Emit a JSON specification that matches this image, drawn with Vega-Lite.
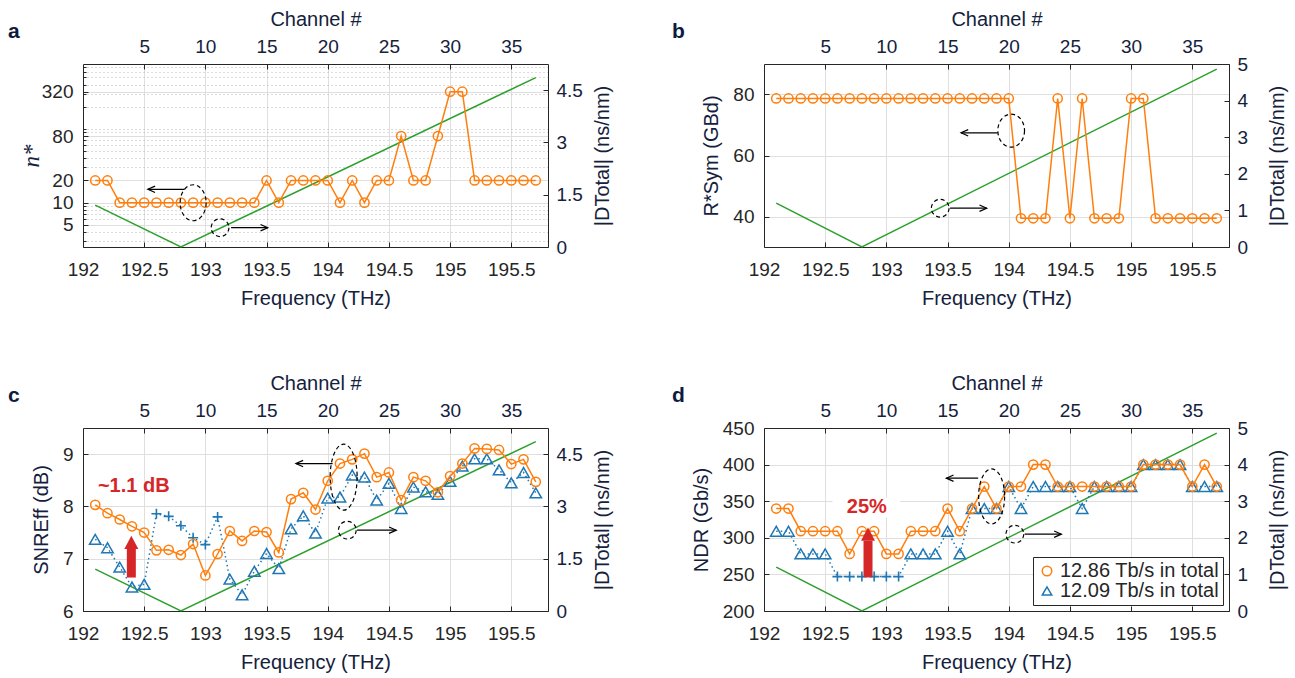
{
  "$schema": "https://vega.github.io/schema/vega-lite/v6.json",
  "background": "white",
  "padding": {"left": 8, "top": 9, "right": 2, "bottom": 2},
  "columns": 2,
  "spacing": {"row": 181, "column": 216},
  "bounds": "flush",
  "resolve": {"scale": {"color": "independent", "shape": "independent"}},
  "config": {
    "font": "Liberation Sans",
    "view": {"stroke": null},
    "axis": {"labelFont": "Liberation Sans", "labelFontSize": 19, "labelColor": "#262626", "titleFont": "Liberation Sans", "titleFontSize": 20, "titleFontWeight": "normal", "titleColor": "#14213d", "domainColor": "#262626", "tickColor": "#262626", "tickSize": -5, "labelPadding": 9, "titlePadding": 6, "gridColor": "#dfdfdf", "labelOverlap": false, "labelFlush": false, "labelBound": false},
    "axisTop": {"labelPadding": 13, "titlePadding": 8},
    "axisBottom": {"labelPadding": 18, "titlePadding": 9},
    "axisLeft": {"labelPadding": 15},
    "axisRight": {"labelPadding": 13},
    "title": {"font": "Liberation Sans", "fontSize": 21, "fontWeight": "bold", "color": "#0d1b3e", "anchor": "start", "frame": "group", "offset": 0},
    "legend": {"labelFont": "Liberation Sans", "labelFontSize": 20, "labelColor": "#262626", "symbolStrokeWidth": 1.5, "rowPadding": 0, "padding": 4, "strokeColor": "#262626", "fillColor": "white", "labelOffset": 3, "symbolSize": 90, "labelLimit": 300}
  },
  "datasets": {
    "G": [{"f": 192.1, "d": 1.2}, {"f": 192.8, "d": 0}, {"f": 195.7, "d": 4.86}],
    "A": [
      {"f": 192.1, "v": 20}, {"f": 192.2, "v": 20}, {"f": 192.3, "v": 10}, {"f": 192.4, "v": 10}, {"f": 192.5, "v": 10},
      {"f": 192.6, "v": 10}, {"f": 192.7, "v": 10}, {"f": 192.8, "v": 10}, {"f": 192.9, "v": 10}, {"f": 193.0, "v": 10},
      {"f": 193.1, "v": 10}, {"f": 193.2, "v": 10}, {"f": 193.3, "v": 10}, {"f": 193.4, "v": 10}, {"f": 193.5, "v": 20},
      {"f": 193.6, "v": 10}, {"f": 193.7, "v": 20}, {"f": 193.8, "v": 20}, {"f": 193.9, "v": 20}, {"f": 194.0, "v": 20},
      {"f": 194.1, "v": 10}, {"f": 194.2, "v": 20}, {"f": 194.3, "v": 10}, {"f": 194.4, "v": 20}, {"f": 194.5, "v": 20},
      {"f": 194.6, "v": 80}, {"f": 194.7, "v": 20}, {"f": 194.8, "v": 20}, {"f": 194.9, "v": 80}, {"f": 195.0, "v": 320},
      {"f": 195.1, "v": 320}, {"f": 195.2, "v": 20}, {"f": 195.3, "v": 20}, {"f": 195.4, "v": 20}, {"f": 195.5, "v": 20},
      {"f": 195.6, "v": 20}, {"f": 195.7, "v": 20}
    ],
    "B": [
      {"f": 192.1, "v": 78.7}, {"f": 192.2, "v": 78.7}, {"f": 192.3, "v": 78.7}, {"f": 192.4, "v": 78.7}, {"f": 192.5, "v": 78.7},
      {"f": 192.6, "v": 78.7}, {"f": 192.7, "v": 78.7}, {"f": 192.8, "v": 78.7}, {"f": 192.9, "v": 78.7}, {"f": 193.0, "v": 78.7},
      {"f": 193.1, "v": 78.7}, {"f": 193.2, "v": 78.7}, {"f": 193.3, "v": 78.7}, {"f": 193.4, "v": 78.7}, {"f": 193.5, "v": 78.7},
      {"f": 193.6, "v": 78.7}, {"f": 193.7, "v": 78.7}, {"f": 193.8, "v": 78.7}, {"f": 193.9, "v": 78.7}, {"f": 194.0, "v": 78.7},
      {"f": 194.1, "v": 39.4}, {"f": 194.2, "v": 39.4}, {"f": 194.3, "v": 39.4}, {"f": 194.4, "v": 78.7}, {"f": 194.5, "v": 39.4},
      {"f": 194.6, "v": 78.7}, {"f": 194.7, "v": 39.4}, {"f": 194.8, "v": 39.4}, {"f": 194.9, "v": 39.4}, {"f": 195.0, "v": 78.7},
      {"f": 195.1, "v": 78.7}, {"f": 195.2, "v": 39.4}, {"f": 195.3, "v": 39.4}, {"f": 195.4, "v": 39.4}, {"f": 195.5, "v": 39.4},
      {"f": 195.6, "v": 39.4}, {"f": 195.7, "v": 39.4}
    ],
    "Co": [
      {"f": 192.1, "v": 8.03}, {"f": 192.2, "v": 7.87}, {"f": 192.3, "v": 7.75}, {"f": 192.4, "v": 7.62}, {"f": 192.5, "v": 7.50},
      {"f": 192.6, "v": 7.16}, {"f": 192.7, "v": 7.17}, {"f": 192.8, "v": 7.07}, {"f": 192.9, "v": 7.28}, {"f": 193.0, "v": 6.68},
      {"f": 193.1, "v": 7.09}, {"f": 193.2, "v": 7.53}, {"f": 193.3, "v": 7.34}, {"f": 193.4, "v": 7.53}, {"f": 193.5, "v": 7.51},
      {"f": 193.6, "v": 7.12}, {"f": 193.7, "v": 8.14}, {"f": 193.8, "v": 8.26}, {"f": 193.9, "v": 7.94}, {"f": 194.0, "v": 8.49},
      {"f": 194.1, "v": 8.82}, {"f": 194.2, "v": 8.90}, {"f": 194.3, "v": 9.01}, {"f": 194.4, "v": 8.56}, {"f": 194.5, "v": 8.65},
      {"f": 194.6, "v": 8.12}, {"f": 194.7, "v": 8.56}, {"f": 194.8, "v": 8.49}, {"f": 194.9, "v": 8.27}, {"f": 195.0, "v": 8.58},
      {"f": 195.1, "v": 8.82}, {"f": 195.2, "v": 9.11}, {"f": 195.3, "v": 9.10}, {"f": 195.4, "v": 9.08}, {"f": 195.5, "v": 8.81},
      {"f": 195.6, "v": 8.90}, {"f": 195.7, "v": 8.47}
    ],
    "Cb": [
      {"f": 192.1, "v": 7.37, "kind": "tri"}, {"f": 192.2, "v": 7.21, "kind": "tri"}, {"f": 192.3, "v": 6.84, "kind": "tri"},
      {"f": 192.4, "v": 6.46, "kind": "tri"}, {"f": 192.5, "v": 6.51, "kind": "tri"}, {"f": 192.6, "v": 7.86, "kind": "plus"},
      {"f": 192.7, "v": 7.81, "kind": "plus"}, {"f": 192.8, "v": 7.63, "kind": "plus"}, {"f": 192.9, "v": 7.40, "kind": "plus"},
      {"f": 193.0, "v": 7.27, "kind": "plus"}, {"f": 193.1, "v": 7.80, "kind": "plus"}, {"f": 193.2, "v": 6.61, "kind": "tri"},
      {"f": 193.3, "v": 6.31, "kind": "tri"}, {"f": 193.4, "v": 6.76, "kind": "tri"}, {"f": 193.5, "v": 7.10, "kind": "tri"},
      {"f": 193.6, "v": 6.81, "kind": "tri"}, {"f": 193.7, "v": 7.57, "kind": "tri"}, {"f": 193.8, "v": 7.82, "kind": "tri"},
      {"f": 193.9, "v": 7.49, "kind": "tri"}, {"f": 194.0, "v": 8.16, "kind": "tri"}, {"f": 194.1, "v": 8.18, "kind": "tri"},
      {"f": 194.2, "v": 8.60, "kind": "tri"}, {"f": 194.3, "v": 8.56, "kind": "tri"}, {"f": 194.4, "v": 8.12, "kind": "tri"},
      {"f": 194.5, "v": 8.44, "kind": "tri"}, {"f": 194.6, "v": 7.96, "kind": "tri"}, {"f": 194.7, "v": 8.37, "kind": "tri"},
      {"f": 194.8, "v": 8.28, "kind": "tri"}, {"f": 194.9, "v": 8.23, "kind": "tri"}, {"f": 195.0, "v": 8.48, "kind": "tri"},
      {"f": 195.1, "v": 8.77, "kind": "tri"}, {"f": 195.2, "v": 8.91, "kind": "tri"}, {"f": 195.3, "v": 8.91, "kind": "tri"},
      {"f": 195.4, "v": 8.70, "kind": "tri"}, {"f": 195.5, "v": 8.45, "kind": "tri"}, {"f": 195.6, "v": 8.65, "kind": "tri"},
      {"f": 195.7, "v": 8.26, "kind": "tri"}
    ],
    "Do": [
      {"f": 192.1, "v": 340, "series": "12.86 Tb/s in total"}, {"f": 192.2, "v": 340, "series": "12.86 Tb/s in total"},
      {"f": 192.3, "v": 309, "series": "12.86 Tb/s in total"}, {"f": 192.4, "v": 309, "series": "12.86 Tb/s in total"},
      {"f": 192.5, "v": 309, "series": "12.86 Tb/s in total"}, {"f": 192.6, "v": 309, "series": "12.86 Tb/s in total"},
      {"f": 192.7, "v": 278, "series": "12.86 Tb/s in total"}, {"f": 192.8, "v": 309, "series": "12.86 Tb/s in total"},
      {"f": 192.9, "v": 309, "series": "12.86 Tb/s in total"}, {"f": 193.0, "v": 278, "series": "12.86 Tb/s in total"},
      {"f": 193.1, "v": 278, "series": "12.86 Tb/s in total"}, {"f": 193.2, "v": 309, "series": "12.86 Tb/s in total"},
      {"f": 193.3, "v": 309, "series": "12.86 Tb/s in total"}, {"f": 193.4, "v": 309, "series": "12.86 Tb/s in total"},
      {"f": 193.5, "v": 340, "series": "12.86 Tb/s in total"}, {"f": 193.6, "v": 309, "series": "12.86 Tb/s in total"},
      {"f": 193.7, "v": 340, "series": "12.86 Tb/s in total"}, {"f": 193.8, "v": 370, "series": "12.86 Tb/s in total"},
      {"f": 193.9, "v": 340, "series": "12.86 Tb/s in total"}, {"f": 194.0, "v": 370, "series": "12.86 Tb/s in total"},
      {"f": 194.1, "v": 370, "series": "12.86 Tb/s in total"}, {"f": 194.2, "v": 400, "series": "12.86 Tb/s in total"},
      {"f": 194.3, "v": 400, "series": "12.86 Tb/s in total"}, {"f": 194.4, "v": 370, "series": "12.86 Tb/s in total"},
      {"f": 194.5, "v": 370, "series": "12.86 Tb/s in total"}, {"f": 194.6, "v": 370, "series": "12.86 Tb/s in total"},
      {"f": 194.7, "v": 370, "series": "12.86 Tb/s in total"}, {"f": 194.8, "v": 370, "series": "12.86 Tb/s in total"},
      {"f": 194.9, "v": 370, "series": "12.86 Tb/s in total"}, {"f": 195.0, "v": 370, "series": "12.86 Tb/s in total"},
      {"f": 195.1, "v": 400, "series": "12.86 Tb/s in total"}, {"f": 195.2, "v": 400, "series": "12.86 Tb/s in total"},
      {"f": 195.3, "v": 400, "series": "12.86 Tb/s in total"}, {"f": 195.4, "v": 400, "series": "12.86 Tb/s in total"},
      {"f": 195.5, "v": 370, "series": "12.86 Tb/s in total"}, {"f": 195.6, "v": 400, "series": "12.86 Tb/s in total"},
      {"f": 195.7, "v": 370, "series": "12.86 Tb/s in total"}
    ],
    "Db": [
      {"f": 192.1, "v": 309, "kind": "tri", "series": "12.09 Tb/s in total"}, {"f": 192.2, "v": 309, "kind": "tri", "series": "12.09 Tb/s in total"},
      {"f": 192.3, "v": 278, "kind": "tri", "series": "12.09 Tb/s in total"}, {"f": 192.4, "v": 278, "kind": "tri", "series": "12.09 Tb/s in total"},
      {"f": 192.5, "v": 278, "kind": "tri", "series": "12.09 Tb/s in total"}, {"f": 192.6, "v": 247, "kind": "plus", "series": "12.09 Tb/s in total"},
      {"f": 192.7, "v": 247, "kind": "plus", "series": "12.09 Tb/s in total"}, {"f": 192.8, "v": 247, "kind": "plus", "series": "12.09 Tb/s in total"},
      {"f": 192.9, "v": 247, "kind": "plus", "series": "12.09 Tb/s in total"}, {"f": 193.0, "v": 247, "kind": "plus", "series": "12.09 Tb/s in total"},
      {"f": 193.1, "v": 247, "kind": "plus", "series": "12.09 Tb/s in total"}, {"f": 193.2, "v": 278, "kind": "tri", "series": "12.09 Tb/s in total"},
      {"f": 193.3, "v": 278, "kind": "tri", "series": "12.09 Tb/s in total"}, {"f": 193.4, "v": 278, "kind": "tri", "series": "12.09 Tb/s in total"},
      {"f": 193.5, "v": 309, "kind": "tri", "series": "12.09 Tb/s in total"}, {"f": 193.6, "v": 278, "kind": "tri", "series": "12.09 Tb/s in total"},
      {"f": 193.7, "v": 340, "kind": "tri", "series": "12.09 Tb/s in total"}, {"f": 193.8, "v": 340, "kind": "tri", "series": "12.09 Tb/s in total"},
      {"f": 193.9, "v": 340, "kind": "tri", "series": "12.09 Tb/s in total"}, {"f": 194.0, "v": 370, "kind": "tri", "series": "12.09 Tb/s in total"},
      {"f": 194.1, "v": 340, "kind": "tri", "series": "12.09 Tb/s in total"}, {"f": 194.2, "v": 370, "kind": "tri", "series": "12.09 Tb/s in total"},
      {"f": 194.3, "v": 370, "kind": "tri", "series": "12.09 Tb/s in total"}, {"f": 194.4, "v": 370, "kind": "tri", "series": "12.09 Tb/s in total"},
      {"f": 194.5, "v": 370, "kind": "tri", "series": "12.09 Tb/s in total"}, {"f": 194.6, "v": 340, "kind": "tri", "series": "12.09 Tb/s in total"},
      {"f": 194.7, "v": 370, "kind": "tri", "series": "12.09 Tb/s in total"}, {"f": 194.8, "v": 370, "kind": "tri", "series": "12.09 Tb/s in total"},
      {"f": 194.9, "v": 370, "kind": "tri", "series": "12.09 Tb/s in total"}, {"f": 195.0, "v": 370, "kind": "tri", "series": "12.09 Tb/s in total"},
      {"f": 195.1, "v": 400, "kind": "tri", "series": "12.09 Tb/s in total"}, {"f": 195.2, "v": 400, "kind": "tri", "series": "12.09 Tb/s in total"},
      {"f": 195.3, "v": 400, "kind": "tri", "series": "12.09 Tb/s in total"}, {"f": 195.4, "v": 400, "kind": "tri", "series": "12.09 Tb/s in total"},
      {"f": 195.5, "v": 370, "kind": "tri", "series": "12.09 Tb/s in total"}, {"f": 195.6, "v": 370, "kind": "tri", "series": "12.09 Tb/s in total"},
      {"f": 195.7, "v": 370, "kind": "tri", "series": "12.09 Tb/s in total"}
    ],
    "arrA": [{"f1": 192.83, "f2": 192.53, "d": 1.655}, {"f1": 193.21, "f2": 193.51, "d": 0.554}],
    "arrB": [{"f1": 193.91, "f2": 193.61, "d": 3.12}, {"f1": 193.52, "f2": 193.82, "d": 1.06}],
    "arrC": [{"f1": 194.04, "f2": 193.74, "d": 4.23}, {"f1": 194.24, "f2": 194.56, "d": 2.32}],
    "arrD": [{"f1": 193.75, "f2": 193.49, "d": 3.63}, {"f1": 194.13, "f2": 194.43, "d": 2.10}]
  },
  "concat": [
    {
      "width": 465, "height": 183,
      "title": {"text": "a", "dx": -75, "dy": 37},
      "resolve": {"scale": {"y": "independent"}, "axis": {"x": "independent", "y": "independent"}},
      "layer": [
        {"data": {"name": "A"}, "mark": {"type": "point", "shape": "circle", "filled": false, "size": 80, "strokeWidth": 1.5, "color": "#ff7f0e", "opacity": 0},
         "encoding": {
           "x": {"field": "f", "type": "quantitative", "scale": {"domain": [192, 195.8], "nice": false, "zero": false}, "axis": null},
           "y": {"field": "v", "type": "quantitative", "scale": {"type": "log", "domain": [2.5, 760], "nice": false}, "axis": {"orient": "left", "values": [3, 4, 6, 7, 8, 9, 30, 40, 50, 60, 70, 90, 100, 200, 300, 400, 500, 600, 700], "labels": false, "title": null, "domain": false, "grid": true, "gridDash": [1, 3], "gridColor": "#b8b8b8", "tickSize": -3}}}},
        {"data": {"name": "G"}, "mark": {"type": "line", "color": "#2ca02c", "strokeWidth": 1.5},
         "encoding": {
           "x": {"field": "f", "type": "quantitative", "scale": {"domain": [192, 195.8], "nice": false, "zero": false}, "axis": {"orient": "top", "values": [192.5, 193, 193.5, 194, 194.5, 195, 195.5], "labelExpr": "format(round((datum.value-192)*10),'d')", "title": "Channel #", "grid": false, "labelColor": "#14213d"}},
           "y": {"field": "d", "type": "quantitative", "scale": {"domain": [0, 5.25], "nice": false, "zero": false}, "axis": {"orient": "right", "values": [0, 1.5, 3, 4.5], "format": ".2~r", "title": "|DTotal| (ns/nm)", "titleAngle": -90, "titleBaseline": "top", "titlePadding": 10, "grid": false, "labelColor": "#14213d"}}}},
        {"data": {"name": "A"}, "mark": {"type": "line", "color": "#ff7f0e", "strokeWidth": 1.5},
         "encoding": {
           "x": {"field": "f", "type": "quantitative", "scale": {"domain": [192, 195.8], "nice": false, "zero": false}, "axis": {"orient": "bottom", "values": [192, 192.5, 193, 193.5, 194, 194.5, 195, 195.5], "format": ".4~r", "title": "Frequency (THz)", "grid": true}},
           "y": {"field": "v", "type": "quantitative", "scale": {"type": "log", "domain": [2.5, 760], "nice": false}, "axis": {"orient": "left", "values": [5, 10, 20, 80, 320], "format": ".3~r", "title": "n*", "titleFont": "Liberation Serif", "titleFontStyle": "italic", "titleFontSize": 23, "titlePadding": -2, "grid": true}}}},
        {"data": {"name": "A"}, "mark": {"type": "point", "shape": "circle", "filled": false, "size": 85, "strokeWidth": 1.5, "color": "#ff7f0e", "opacity": 1},
         "encoding": {
           "x": {"field": "f", "type": "quantitative", "scale": {"domain": [192, 195.8], "nice": false, "zero": false}, "axis": null},
           "y": {"field": "v", "type": "quantitative", "scale": {"type": "log", "domain": [2.5, 760], "nice": false}, "axis": null}}},
        {"data": {"values": [{"f": 192.90, "d": 1.27}]}, "mark": {"type": "point", "shape": "M 0.722 0 C 0.722 0.552 0.399 1 0 1 C -0.399 1 -0.722 0.552 -0.722 0 C -0.722 -0.552 -0.399 -1 0 -1 C 0.399 -1 0.722 -0.552 0.722 0 Z", "size": 1296, "filled": false, "color": "black", "strokeWidth": 1.2, "strokeDash": [4, 3], "opacity": 1},
         "encoding": {
           "x": {"field": "f", "type": "quantitative", "scale": {"domain": [192, 195.8], "nice": false, "zero": false}, "axis": null},
           "y": {"field": "d", "type": "quantitative", "scale": {"domain": [0, 5.25], "nice": false, "zero": false}, "axis": null}}},
        {"data": {"values": [{"f": 193.12, "d": 0.554}]}, "mark": {"type": "point", "shape": "circle", "size": 314, "filled": false, "color": "black", "strokeWidth": 1.2, "strokeDash": [4, 3], "opacity": 1},
         "encoding": {
           "x": {"field": "f", "type": "quantitative", "scale": {"domain": [192, 195.8], "nice": false, "zero": false}, "axis": null},
           "y": {"field": "d", "type": "quantitative", "scale": {"domain": [0, 5.25], "nice": false, "zero": false}, "axis": null}}},
        {"data": {"name": "arrA"}, "mark": {"type": "rule", "color": "black", "strokeWidth": 1.2},
         "encoding": {
           "x": {"field": "f1", "type": "quantitative", "scale": {"domain": [192, 195.8], "nice": false, "zero": false}, "axis": null},
           "x2": {"field": "f2"},
           "y": {"field": "d", "type": "quantitative", "scale": {"domain": [0, 5.25], "nice": false, "zero": false}, "axis": null}}},
        {"data": {"name": "arrA"}, "transform": [{"filter": "datum.f2 < datum.f1"}], "mark": {"type": "point", "shape": "M 1.8 -0.8 L 0 0 L 1.8 0.8", "size": 64, "filled": false, "color": "black", "strokeWidth": 1.2, "opacity": 1},
         "encoding": {
           "x": {"field": "f2", "type": "quantitative", "scale": {"domain": [192, 195.8], "nice": false, "zero": false}, "axis": null},
           "y": {"field": "d", "type": "quantitative", "scale": {"domain": [0, 5.25], "nice": false, "zero": false}, "axis": null}}},
        {"data": {"name": "arrA"}, "transform": [{"filter": "datum.f2 > datum.f1"}], "mark": {"type": "point", "shape": "M -1.8 -0.8 L 0 0 L -1.8 0.8", "size": 64, "filled": false, "color": "black", "strokeWidth": 1.2, "opacity": 1},
         "encoding": {
           "x": {"field": "f2", "type": "quantitative", "scale": {"domain": [192, 195.8], "nice": false, "zero": false}, "axis": null},
           "y": {"field": "d", "type": "quantitative", "scale": {"domain": [0, 5.25], "nice": false, "zero": false}, "axis": null}}}
      ]
    },
    {
      "width": 465, "height": 183,
      "title": {"text": "b", "dx": -92, "dy": 37},
      "resolve": {"scale": {"y": "independent"}, "axis": {"x": "independent", "y": "independent"}},
      "layer": [
        {"data": {"name": "G"}, "mark": {"type": "line", "color": "#2ca02c", "strokeWidth": 1.5},
         "encoding": {
           "x": {"field": "f", "type": "quantitative", "scale": {"domain": [192, 195.8], "nice": false, "zero": false}, "axis": {"orient": "top", "values": [192.5, 193, 193.5, 194, 194.5, 195, 195.5], "labelExpr": "format(round((datum.value-192)*10),'d')", "title": "Channel #", "grid": false, "labelColor": "#14213d"}},
           "y": {"field": "d", "type": "quantitative", "scale": {"domain": [0, 5], "nice": false, "zero": false}, "axis": {"orient": "right", "values": [0, 1, 2, 3, 4, 5], "format": "d", "title": "|DTotal| (ns/nm)", "titleAngle": -90, "titleBaseline": "top", "titlePadding": 20, "grid": false, "labelColor": "#14213d"}}}},
        {"data": {"name": "B"}, "mark": {"type": "line", "color": "#ff7f0e", "strokeWidth": 1.5},
         "encoding": {
           "x": {"field": "f", "type": "quantitative", "scale": {"domain": [192, 195.8], "nice": false, "zero": false}, "axis": {"orient": "bottom", "values": [192, 192.5, 193, 193.5, 194, 194.5, 195, 195.5], "format": ".4~r", "title": "Frequency (THz)", "grid": true}},
           "y": {"field": "v", "type": "quantitative", "scale": {"domain": [30, 90], "nice": false, "zero": false}, "axis": {"orient": "left", "values": [40, 60, 80], "format": "d", "title": "R*Sym (GBd)", "titlePadding": 11, "grid": true}}}},
        {"data": {"name": "B"}, "mark": {"type": "point", "shape": "circle", "filled": false, "size": 85, "strokeWidth": 1.5, "color": "#ff7f0e", "opacity": 1},
         "encoding": {
           "x": {"field": "f", "type": "quantitative", "scale": {"domain": [192, 195.8], "nice": false, "zero": false}, "axis": null},
           "y": {"field": "v", "type": "quantitative", "scale": {"domain": [30, 90], "nice": false, "zero": false}, "axis": null}}},
        {"data": {"values": [{"f": 194.02, "d": 3.18}]}, "mark": {"type": "point", "shape": "M 0.809 0 C 0.809 0.552 0.447 1 0 1 C -0.447 1 -0.809 0.552 -0.809 0 C -0.809 -0.552 -0.447 -1 0 -1 C 0.447 -1 0.809 -0.552 0.809 0 Z", "size": 1089, "filled": false, "color": "black", "strokeWidth": 1.2, "strokeDash": [4, 3], "opacity": 1},
         "encoding": {
           "x": {"field": "f", "type": "quantitative", "scale": {"domain": [192, 195.8], "nice": false, "zero": false}, "axis": null},
           "y": {"field": "d", "type": "quantitative", "scale": {"domain": [0, 5], "nice": false, "zero": false}, "axis": null}}},
        {"data": {"values": [{"f": 193.44, "d": 1.06}]}, "mark": {"type": "point", "shape": "circle", "size": 314, "filled": false, "color": "black", "strokeWidth": 1.2, "strokeDash": [4, 3], "opacity": 1},
         "encoding": {
           "x": {"field": "f", "type": "quantitative", "scale": {"domain": [192, 195.8], "nice": false, "zero": false}, "axis": null},
           "y": {"field": "d", "type": "quantitative", "scale": {"domain": [0, 5], "nice": false, "zero": false}, "axis": null}}},
        {"data": {"name": "arrB"}, "mark": {"type": "rule", "color": "black", "strokeWidth": 1.2},
         "encoding": {
           "x": {"field": "f1", "type": "quantitative", "scale": {"domain": [192, 195.8], "nice": false, "zero": false}, "axis": null},
           "x2": {"field": "f2"},
           "y": {"field": "d", "type": "quantitative", "scale": {"domain": [0, 5], "nice": false, "zero": false}, "axis": null}}},
        {"data": {"name": "arrB"}, "transform": [{"filter": "datum.f2 < datum.f1"}], "mark": {"type": "point", "shape": "M 1.8 -0.8 L 0 0 L 1.8 0.8", "size": 64, "filled": false, "color": "black", "strokeWidth": 1.2, "opacity": 1},
         "encoding": {
           "x": {"field": "f2", "type": "quantitative", "scale": {"domain": [192, 195.8], "nice": false, "zero": false}, "axis": null},
           "y": {"field": "d", "type": "quantitative", "scale": {"domain": [0, 5], "nice": false, "zero": false}, "axis": null}}},
        {"data": {"name": "arrB"}, "transform": [{"filter": "datum.f2 > datum.f1"}], "mark": {"type": "point", "shape": "M -1.8 -0.8 L 0 0 L -1.8 0.8", "size": 64, "filled": false, "color": "black", "strokeWidth": 1.2, "opacity": 1},
         "encoding": {
           "x": {"field": "f2", "type": "quantitative", "scale": {"domain": [192, 195.8], "nice": false, "zero": false}, "axis": null},
           "y": {"field": "d", "type": "quantitative", "scale": {"domain": [0, 5], "nice": false, "zero": false}, "axis": null}}}
      ]
    },
    {
      "width": 465, "height": 183,
      "title": {"text": "c", "dx": -75, "dy": 37},
      "resolve": {"scale": {"y": "independent"}, "axis": {"x": "independent", "y": "independent"}},
      "layer": [
        {"data": {"name": "G"}, "mark": {"type": "line", "color": "#2ca02c", "strokeWidth": 1.5},
         "encoding": {
           "x": {"field": "f", "type": "quantitative", "scale": {"domain": [192, 195.8], "nice": false, "zero": false}, "axis": {"orient": "top", "values": [192.5, 193, 193.5, 194, 194.5, 195, 195.5], "labelExpr": "format(round((datum.value-192)*10),'d')", "title": "Channel #", "grid": false, "labelColor": "#14213d"}},
           "y": {"field": "d", "type": "quantitative", "scale": {"domain": [0, 5.25], "nice": false, "zero": false}, "axis": {"orient": "right", "values": [0, 1.5, 3, 4.5], "format": ".2~r", "title": "|DTotal| (ns/nm)", "titleAngle": -90, "titleBaseline": "top", "titlePadding": 10, "grid": false, "labelColor": "#14213d"}}}},
        {"data": {"name": "Cb"}, "mark": {"type": "line", "color": "#1f77b4", "strokeWidth": 1.5, "strokeDash": [1.5, 3]},
         "encoding": {
           "x": {"field": "f", "type": "quantitative", "scale": {"domain": [192, 195.8], "nice": false, "zero": false}, "axis": null},
           "y": {"field": "v", "type": "quantitative", "scale": {"domain": [6, 9.5], "nice": false, "zero": false}, "axis": null}}},
        {"data": {"name": "Cb"}, "transform": [{"filter": "datum.kind == 'tri'"}], "mark": {"type": "point", "shape": "triangle-up", "filled": false, "size": 130, "strokeWidth": 1.5, "color": "#1f77b4", "opacity": 1},
         "encoding": {
           "x": {"field": "f", "type": "quantitative", "scale": {"domain": [192, 195.8], "nice": false, "zero": false}, "axis": null},
           "y": {"field": "v", "type": "quantitative", "scale": {"domain": [6, 9.5], "nice": false, "zero": false}, "axis": null}}},
        {"data": {"name": "Cb"}, "transform": [{"filter": "datum.kind == 'plus'"}], "mark": {"type": "point", "shape": "M -1 0 L 1 0 M 0 -1 L 0 1", "filled": false, "size": 100, "strokeWidth": 1.6, "color": "#1f77b4", "opacity": 1},
         "encoding": {
           "x": {"field": "f", "type": "quantitative", "scale": {"domain": [192, 195.8], "nice": false, "zero": false}, "axis": null},
           "y": {"field": "v", "type": "quantitative", "scale": {"domain": [6, 9.5], "nice": false, "zero": false}, "axis": null}}},
        {"data": {"name": "Co"}, "mark": {"type": "line", "color": "#ff7f0e", "strokeWidth": 1.5},
         "encoding": {
           "x": {"field": "f", "type": "quantitative", "scale": {"domain": [192, 195.8], "nice": false, "zero": false}, "axis": {"orient": "bottom", "values": [192, 192.5, 193, 193.5, 194, 194.5, 195, 195.5], "format": ".4~r", "title": "Frequency (THz)", "grid": true}},
           "y": {"field": "v", "type": "quantitative", "scale": {"domain": [6, 9.5], "nice": false, "zero": false}, "axis": {"orient": "left", "values": [6, 7, 8, 9], "format": "d", "title": "SNREff (dB)", "titlePadding": 11, "grid": true}}}},
        {"data": {"name": "Co"}, "mark": {"type": "point", "shape": "circle", "filled": false, "size": 85, "strokeWidth": 1.5, "color": "#ff7f0e", "opacity": 1},
         "encoding": {
           "x": {"field": "f", "type": "quantitative", "scale": {"domain": [192, 195.8], "nice": false, "zero": false}, "axis": null},
           "y": {"field": "v", "type": "quantitative", "scale": {"domain": [6, 9.5], "nice": false, "zero": false}, "axis": null}}},
        {"data": {"values": [{"f": 192.395, "lo": 6.64, "neck": 7.19, "tip": 7.44}]}, "mark": {"type": "rule", "color": "#d62728", "strokeWidth": 9, "strokeCap": "butt"},
         "encoding": {
           "x": {"field": "f", "type": "quantitative", "scale": {"domain": [192, 195.8], "nice": false, "zero": false}, "axis": null},
           "y": {"field": "lo", "type": "quantitative", "scale": {"domain": [6, 9.5], "nice": false, "zero": false}, "axis": null},
           "y2": {"field": "neck"}}},
        {"data": {"values": [{"f": 192.395, "lo": 6.64, "neck": 7.19, "tip": 7.44}]}, "mark": {"type": "point", "shape": "M 0 0 L 1 1.9 L -1 1.9 Z", "size": 196, "filled": true, "color": "#d62728", "opacity": 1},
         "encoding": {
           "x": {"field": "f", "type": "quantitative", "scale": {"domain": [192, 195.8], "nice": false, "zero": false}, "axis": null},
           "y": {"field": "tip", "type": "quantitative", "scale": {"domain": [6, 9.5], "nice": false, "zero": false}, "axis": null}}},
        {"data": {"values": [{"f": 192.415, "v": 8.4, "label": "~1.1 dB"}]}, "mark": {"type": "text", "font": "Liberation Sans", "fontSize": 20, "fontWeight": "bold", "color": "#d62728", "align": "center", "baseline": "middle"},
         "encoding": {
           "x": {"field": "f", "type": "quantitative", "scale": {"domain": [192, 195.8], "nice": false, "zero": false}, "axis": null},
           "y": {"field": "v", "type": "quantitative", "scale": {"domain": [6, 9.5], "nice": false, "zero": false}, "axis": null},
           "text": {"field": "label"}}},
        {"data": {"values": [{"f": 194.13, "d": 3.84}]}, "mark": {"type": "point", "shape": "M 0.409 0 C 0.409 0.552 0.226 1 0 1 C -0.226 1 -0.409 0.552 -0.409 0 C -0.409 -0.552 -0.226 -1 0 -1 C 0.226 -1 0.409 -0.552 0.409 0 Z", "size": 4356, "filled": false, "color": "black", "strokeWidth": 1.2, "strokeDash": [4, 3], "opacity": 1},
         "encoding": {
           "x": {"field": "f", "type": "quantitative", "scale": {"domain": [192, 195.8], "nice": false, "zero": false}, "axis": null},
           "y": {"field": "d", "type": "quantitative", "scale": {"domain": [0, 5.25], "nice": false, "zero": false}, "axis": null}}},
        {"data": {"values": [{"f": 194.16, "d": 2.32}]}, "mark": {"type": "point", "shape": "circle", "size": 314, "filled": false, "color": "black", "strokeWidth": 1.2, "strokeDash": [4, 3], "opacity": 1},
         "encoding": {
           "x": {"field": "f", "type": "quantitative", "scale": {"domain": [192, 195.8], "nice": false, "zero": false}, "axis": null},
           "y": {"field": "d", "type": "quantitative", "scale": {"domain": [0, 5.25], "nice": false, "zero": false}, "axis": null}}},
        {"data": {"name": "arrC"}, "mark": {"type": "rule", "color": "black", "strokeWidth": 1.2},
         "encoding": {
           "x": {"field": "f1", "type": "quantitative", "scale": {"domain": [192, 195.8], "nice": false, "zero": false}, "axis": null},
           "x2": {"field": "f2"},
           "y": {"field": "d", "type": "quantitative", "scale": {"domain": [0, 5.25], "nice": false, "zero": false}, "axis": null}}},
        {"data": {"name": "arrC"}, "transform": [{"filter": "datum.f2 < datum.f1"}], "mark": {"type": "point", "shape": "M 1.8 -0.8 L 0 0 L 1.8 0.8", "size": 64, "filled": false, "color": "black", "strokeWidth": 1.2, "opacity": 1},
         "encoding": {
           "x": {"field": "f2", "type": "quantitative", "scale": {"domain": [192, 195.8], "nice": false, "zero": false}, "axis": null},
           "y": {"field": "d", "type": "quantitative", "scale": {"domain": [0, 5.25], "nice": false, "zero": false}, "axis": null}}},
        {"data": {"name": "arrC"}, "transform": [{"filter": "datum.f2 > datum.f1"}], "mark": {"type": "point", "shape": "M -1.8 -0.8 L 0 0 L -1.8 0.8", "size": 64, "filled": false, "color": "black", "strokeWidth": 1.2, "opacity": 1},
         "encoding": {
           "x": {"field": "f2", "type": "quantitative", "scale": {"domain": [192, 195.8], "nice": false, "zero": false}, "axis": null},
           "y": {"field": "d", "type": "quantitative", "scale": {"domain": [0, 5.25], "nice": false, "zero": false}, "axis": null}}}
      ]
    },
    {
      "width": 465, "height": 183,
      "title": {"text": "d", "dx": -92, "dy": 37},
      "resolve": {"scale": {"y": "independent"}, "axis": {"x": "independent", "y": "independent"}},
      "layer": [
        {"data": {"name": "G"}, "mark": {"type": "line", "color": "#2ca02c", "strokeWidth": 1.5},
         "encoding": {
           "x": {"field": "f", "type": "quantitative", "scale": {"domain": [192, 195.8], "nice": false, "zero": false}, "axis": {"orient": "top", "values": [192.5, 193, 193.5, 194, 194.5, 195, 195.5], "labelExpr": "format(round((datum.value-192)*10),'d')", "title": "Channel #", "grid": false, "labelColor": "#14213d"}},
           "y": {"field": "d", "type": "quantitative", "scale": {"domain": [0, 5], "nice": false, "zero": false}, "axis": {"orient": "right", "values": [0, 1, 2, 3, 4, 5], "format": "d", "title": "|DTotal| (ns/nm)", "titleAngle": -90, "titleBaseline": "top", "titlePadding": 20, "grid": false, "labelColor": "#14213d"}}}},
        {"data": {"values": [{"f1": 192.56, "f2": 193.11, "v1": 328, "v2": 355}]}, "mark": {"type": "rect", "color": "white"},
         "encoding": {
           "x": {"field": "f1", "type": "quantitative", "scale": {"domain": [192, 195.8], "nice": false, "zero": false}, "axis": null},
           "x2": {"field": "f2"},
           "y": {"field": "v1", "type": "quantitative", "scale": {"domain": [200, 450], "nice": false, "zero": false}, "axis": null},
           "y2": {"field": "v2"}}},
        {"data": {"name": "Db"}, "mark": {"type": "line", "color": "#1f77b4", "strokeWidth": 1.5, "strokeDash": [1.5, 3]},
         "encoding": {
           "x": {"field": "f", "type": "quantitative", "scale": {"domain": [192, 195.8], "nice": false, "zero": false}, "axis": null},
           "y": {"field": "v", "type": "quantitative", "scale": {"domain": [200, 450], "nice": false, "zero": false}, "axis": null}}},
        {"data": {"name": "Db"}, "transform": [{"filter": "datum.kind == 'tri'"}], "mark": {"type": "point", "filled": false, "size": 130, "strokeWidth": 1.5, "opacity": 1},
         "encoding": {
           "x": {"field": "f", "type": "quantitative", "scale": {"domain": [192, 195.8], "nice": false, "zero": false}, "axis": null},
           "y": {"field": "v", "type": "quantitative", "scale": {"domain": [200, 450], "nice": false, "zero": false}, "axis": null},
           "color": {"field": "series", "type": "nominal", "scale": {"domain": ["12.86 Tb/s in total", "12.09 Tb/s in total"], "range": ["#ff7f0e", "#1f77b4"]}, "legend": {"title": null, "orient": "bottom-right", "offset": 6}},
           "shape": {"field": "series", "type": "nominal", "scale": {"domain": ["12.86 Tb/s in total", "12.09 Tb/s in total"], "range": ["circle", "triangle-up"]}, "legend": {"title": null, "orient": "bottom-right", "offset": 6}}}},
        {"data": {"name": "Db"}, "transform": [{"filter": "datum.kind == 'plus'"}], "mark": {"type": "point", "shape": "M -1 0 L 1 0 M 0 -1 L 0 1", "filled": false, "size": 100, "strokeWidth": 1.6, "color": "#1f77b4", "opacity": 1},
         "encoding": {
           "x": {"field": "f", "type": "quantitative", "scale": {"domain": [192, 195.8], "nice": false, "zero": false}, "axis": null},
           "y": {"field": "v", "type": "quantitative", "scale": {"domain": [200, 450], "nice": false, "zero": false}, "axis": null}}},
        {"data": {"name": "Do"}, "mark": {"type": "line", "color": "#ff7f0e", "strokeWidth": 1.5},
         "encoding": {
           "x": {"field": "f", "type": "quantitative", "scale": {"domain": [192, 195.8], "nice": false, "zero": false}, "axis": {"orient": "bottom", "values": [192, 192.5, 193, 193.5, 194, 194.5, 195, 195.5], "format": ".4~r", "title": "Frequency (THz)", "grid": true}},
           "y": {"field": "v", "type": "quantitative", "scale": {"domain": [200, 450], "nice": false, "zero": false}, "axis": {"orient": "left", "values": [200, 250, 300, 350, 400, 450], "format": "d", "title": "NDR (Gb/s)", "titlePadding": 11, "grid": true}}}},
        {"data": {"name": "Do"}, "mark": {"type": "point", "filled": false, "size": 85, "strokeWidth": 1.5, "opacity": 1},
         "encoding": {
           "x": {"field": "f", "type": "quantitative", "scale": {"domain": [192, 195.8], "nice": false, "zero": false}, "axis": null},
           "y": {"field": "v", "type": "quantitative", "scale": {"domain": [200, 450], "nice": false, "zero": false}, "axis": null},
           "color": {"field": "series", "type": "nominal", "scale": {"domain": ["12.86 Tb/s in total", "12.09 Tb/s in total"], "range": ["#ff7f0e", "#1f77b4"]}, "legend": {"title": null, "orient": "bottom-right", "offset": 6}},
           "shape": {"field": "series", "type": "nominal", "scale": {"domain": ["12.86 Tb/s in total", "12.09 Tb/s in total"], "range": ["circle", "triangle-up"]}, "legend": {"title": null, "orient": "bottom-right", "offset": 6}}}},
        {"data": {"values": [{"f": 192.85, "lo": 246, "neck": 296, "tip": 314}]}, "mark": {"type": "rule", "color": "#d62728", "strokeWidth": 9, "strokeCap": "butt"},
         "encoding": {
           "x": {"field": "f", "type": "quantitative", "scale": {"domain": [192, 195.8], "nice": false, "zero": false}, "axis": null},
           "y": {"field": "lo", "type": "quantitative", "scale": {"domain": [200, 450], "nice": false, "zero": false}, "axis": null},
           "y2": {"field": "neck"}}},
        {"data": {"values": [{"f": 192.85, "lo": 246, "neck": 296, "tip": 314}]}, "mark": {"type": "point", "shape": "M 0 0 L 1 1.9 L -1 1.9 Z", "size": 196, "filled": true, "color": "#d62728", "opacity": 1},
         "encoding": {
           "x": {"field": "f", "type": "quantitative", "scale": {"domain": [192, 195.8], "nice": false, "zero": false}, "axis": null},
           "y": {"field": "tip", "type": "quantitative", "scale": {"domain": [200, 450], "nice": false, "zero": false}, "axis": null}}},
        {"data": {"values": [{"f": 192.84, "v": 342, "label": "25%"}]}, "mark": {"type": "text", "font": "Liberation Sans", "fontSize": 20, "fontWeight": "bold", "color": "#d62728", "align": "center", "baseline": "middle"},
         "encoding": {
           "x": {"field": "f", "type": "quantitative", "scale": {"domain": [192, 195.8], "nice": false, "zero": false}, "axis": null},
           "y": {"field": "v", "type": "quantitative", "scale": {"domain": [200, 450], "nice": false, "zero": false}, "axis": null},
           "text": {"field": "label"}}},
        {"data": {"values": [{"f": 193.86, "d": 3.13}]}, "mark": {"type": "point", "shape": "M 0.473 0 C 0.473 0.552 0.261 1 0 1 C -0.261 1 -0.473 0.552 -0.473 0 C -0.473 -0.552 -0.261 -1 0 -1 C 0.261 -1 0.473 -0.552 0.473 0 Z", "size": 3025, "filled": false, "color": "black", "strokeWidth": 1.2, "strokeDash": [4, 3], "opacity": 1},
         "encoding": {
           "x": {"field": "f", "type": "quantitative", "scale": {"domain": [192, 195.8], "nice": false, "zero": false}, "axis": null},
           "y": {"field": "d", "type": "quantitative", "scale": {"domain": [0, 5], "nice": false, "zero": false}, "axis": null}}},
        {"data": {"values": [{"f": 194.05, "d": 2.10}]}, "mark": {"type": "point", "shape": "circle", "size": 314, "filled": false, "color": "black", "strokeWidth": 1.2, "strokeDash": [4, 3], "opacity": 1},
         "encoding": {
           "x": {"field": "f", "type": "quantitative", "scale": {"domain": [192, 195.8], "nice": false, "zero": false}, "axis": null},
           "y": {"field": "d", "type": "quantitative", "scale": {"domain": [0, 5], "nice": false, "zero": false}, "axis": null}}},
        {"data": {"name": "arrD"}, "mark": {"type": "rule", "color": "black", "strokeWidth": 1.2},
         "encoding": {
           "x": {"field": "f1", "type": "quantitative", "scale": {"domain": [192, 195.8], "nice": false, "zero": false}, "axis": null},
           "x2": {"field": "f2"},
           "y": {"field": "d", "type": "quantitative", "scale": {"domain": [0, 5], "nice": false, "zero": false}, "axis": null}}},
        {"data": {"name": "arrD"}, "transform": [{"filter": "datum.f2 < datum.f1"}], "mark": {"type": "point", "shape": "M 1.8 -0.8 L 0 0 L 1.8 0.8", "size": 64, "filled": false, "color": "black", "strokeWidth": 1.2, "opacity": 1},
         "encoding": {
           "x": {"field": "f2", "type": "quantitative", "scale": {"domain": [192, 195.8], "nice": false, "zero": false}, "axis": null},
           "y": {"field": "d", "type": "quantitative", "scale": {"domain": [0, 5], "nice": false, "zero": false}, "axis": null}}},
        {"data": {"name": "arrD"}, "transform": [{"filter": "datum.f2 > datum.f1"}], "mark": {"type": "point", "shape": "M -1.8 -0.8 L 0 0 L -1.8 0.8", "size": 64, "filled": false, "color": "black", "strokeWidth": 1.2, "opacity": 1},
         "encoding": {
           "x": {"field": "f2", "type": "quantitative", "scale": {"domain": [192, 195.8], "nice": false, "zero": false}, "axis": null},
           "y": {"field": "d", "type": "quantitative", "scale": {"domain": [0, 5], "nice": false, "zero": false}, "axis": null}}}
      ]
    }
  ]
}
